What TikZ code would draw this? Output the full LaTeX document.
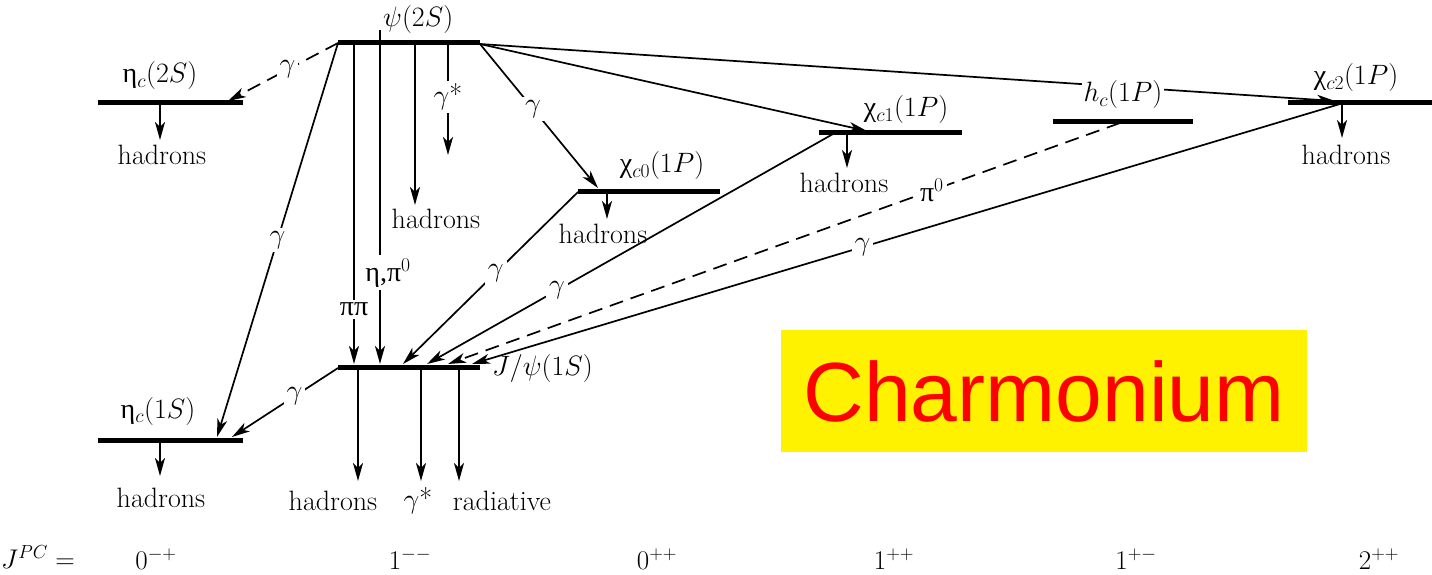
\RequirePackage{fix-cm}
\documentclass[tikz,border=0pt]{standalone}
\usepackage{fontspec}
\newfontfamily\grk{Liberation Serif}
\newfontfamily\arialf{Liberation Sans}
\usetikzlibrary{arrows.meta}
\begin{document}
\begin{tikzpicture}[x=1pt,y=-1pt,
  lvl/.style={line width=5pt},
  tr/.style={line width=1.7pt,-{Stealth[length=18pt,width=10pt,inset=5pt]}},
  dtr/.style={tr,dash pattern=on 14pt off 8pt},
  lab/.style={font=\fontsize{28}{32}\selectfont, inner sep=2pt},
  onl/.style={lab,fill=white,inner sep=3pt},
  jpc/.style={font=\fontsize{27}{30}\selectfont, inner sep=0pt}
  ]
\path[use as bounding box] (0,0) rectangle (1432,575);

% level end points
\coordinate (e2L) at (98,103);   \coordinate (e2R) at (243,103);
\coordinate (p2L) at (338,43);   \coordinate (p2R) at (480,43);
\coordinate (c0L) at (578,191);  \coordinate (c0R) at (720,191);
\coordinate (c1L) at (819,133);  \coordinate (c1R) at (962,133);
\coordinate (hcL) at (1053,122); \coordinate (hcR) at (1193,122);
\coordinate (c2L) at (1288,103); \coordinate (c2R) at (1432,103);
\coordinate (jL) at (338,367);   \coordinate (jR) at (480,367);
\coordinate (e1L) at (98,440);   \coordinate (e1R) at (243,440);

% transition end points
\coordinate (tE2) at (228,101);
\coordinate (tE1a) at (217,437);
\coordinate (tE1b) at (232,437);
\coordinate (sJE) at (338,368);
\coordinate (sC0) at (480,44);
\coordinate (tC0) at (598,188);
\coordinate (tC1) at (867,131);
\coordinate (tC2) at (1335,101);
\coordinate (fC0) at (578,192);
\coordinate (fC1) at (833,134);
\coordinate (fHc) at (1120,123);
\coordinate (fC2) at (1340,104);
\coordinate (tJ1) at (403,364);
\coordinate (tJ2) at (427,364);
\coordinate (tJ3) at (448,364);
\coordinate (tJ4) at (472,364);
\coordinate (pPP) at (354,43);  \coordinate (tPP) at (354,364);
\coordinate (pEt) at (380,30);  \coordinate (tEt) at (380,364);
\coordinate (pGs) at (448,43);  \coordinate (tGs) at (448,155);
\coordinate (pHd) at (415,43);  \coordinate (tHd) at (415,205);

% decays to hadrons etc.
\coordinate (e2d) at (160,103);  \coordinate (e2h) at (160,140);
\coordinate (e1d) at (160,440);  \coordinate (e1h) at (160,476);
\coordinate (c0d) at (607,191);  \coordinate (c0h) at (607,219);
\coordinate (c1d) at (847,133);  \coordinate (c1h) at (847,168);
\coordinate (c2d) at (1342,103); \coordinate (c2h) at (1342,138);
\coordinate (jd1) at (358,367);  \coordinate (jh1) at (358,481);
\coordinate (jd2) at (421,367);  \coordinate (jh2) at (421,481);
\coordinate (jd3) at (459,367);  \coordinate (jh3) at (459,481);

% transitions
\draw[dtr] (p2L) -- node[onl,pos=0.46] {$\gamma$} (tE2);
\draw[tr] (p2L) -- node[onl,pos=0.50] {$\gamma$} (tE1a);
\draw[tr] (sJE) -- node[onl,pos=0.41] {$\gamma$} (tE1b);
\draw[tr] (sC0) -- node[onl,pos=0.45] {$\gamma$} (tC0);
\draw[tr] (sC0) -- (tC1);
\draw[tr] (sC0) -- (tC2);
\draw[tr] (fC0) -- node[onl,pos=0.47] {$\gamma$} (tJ1);
\draw[tr] (fC1) -- node[onl,pos=0.68] {$\gamma$} (tJ2);
\draw[dtr] (fHc) -- node[onl,pos=0.28] {{\grk π}$^0$} (tJ3);
\draw[tr] (fC2) -- node[onl,pos=0.55] {$\gamma$} (tJ4);
\draw[tr] (pPP) -- node[onl,pos=0.83] {\grk ππ} (tPP);
\draw[tr] (pEt) -- node[onl,pos=0.727,xshift=8pt] {{\grk η,π}$^0$} (tEt);
\draw[tr] (pGs) -- node[onl,pos=0.48] {$\gamma$*} (tGs);
\draw[tr] (pHd) -- (tHd);

% decays
\draw[tr] (e2d) -- (e2h);
\draw[tr] (e1d) -- (e1h);
\draw[tr] (c0d) -- (c0h);
\draw[tr] (c1d) -- (c1h);
\draw[tr] (c2d) -- (c2h);
\draw[tr] (jd1) -- (jh1);
\draw[tr] (jd2) -- (jh2);
\draw[tr] (jd3) -- (jh3);

% level labels
\node[lab,fill=white] (hcLab) at (1123,95) {$h_c(1P)$};
\node[lab,anchor=west] (p2Lab) at (381,20) {$\psi(2S)$};
\node[lab] (e2Lab) at (160,76) {{\grk η}$_c(2S)$};
\node[lab] (c0Lab) at (662,166) {{\grk χ}$_{c0}(1P)$};
\node[lab] (c1Lab) at (906,110) {{\grk χ}$_{c1}(1P)$};
\node[lab] (c2Lab) at (1356,78) {{\grk χ}$_{c2}(1P)$};
\node[lab,anchor=west] (jLab) at (490,368) {$J/\psi(1S)$};
\node[lab] (e1Lab) at (158,411) {{\grk η}$_c(1S)$};

% levels
\draw[lvl] (e2L) -- (e2R);
\draw[lvl] (p2L) -- (p2R);
\draw[lvl] (c0L) -- (c0R);
\draw[lvl] (c1L) -- (c1R);
\draw[lvl] (hcL) -- (hcR);
\draw[lvl] (c2L) -- (c2R);
\draw[lvl] (jL) -- (jR);
\draw[lvl] (e1L) -- (e1R);

% decay product labels
\node[lab] (h1) at (162,155) {hadrons};
\node[lab] (h2) at (436,219) {hadrons};
\node[lab] (h3) at (603,234) {hadrons};
\node[lab] (h4) at (844,183) {hadrons};
\node[lab] (h5) at (1346,155) {hadrons};
\node[lab] (h6) at (161,498) {hadrons};
\node[lab] (h7) at (333,501) {hadrons};
\node[lab] (h8) at (418,501) {$\gamma$*};
\node[lab] (h9) at (502,501) {radiative};

% JPC row
\node[jpc] (jpcL) at (38,557) {$J^{PC}=$};
\node[jpc] (q1) at (156,559) {$0^{-+}$};
\node[jpc] (q2) at (410,559) {$1^{--}$};
\node[jpc] (q3) at (657,559) {$0^{++}$};
\node[jpc] (q4) at (894,559) {$1^{++}$};
\node[jpc] (q5) at (1136,559) {$1^{+-}$};
\node[jpc] (q6) at (1379,559) {$2^{++}$};

% title box
\node[fill=yellow, minimum width=526pt, minimum height=122pt, inner sep=0pt,
      text=red, font=\arialf\fontsize{84}{90}\selectfont] (title) at (1044,391) {Charmonium};
\end{tikzpicture}
\end{document}
